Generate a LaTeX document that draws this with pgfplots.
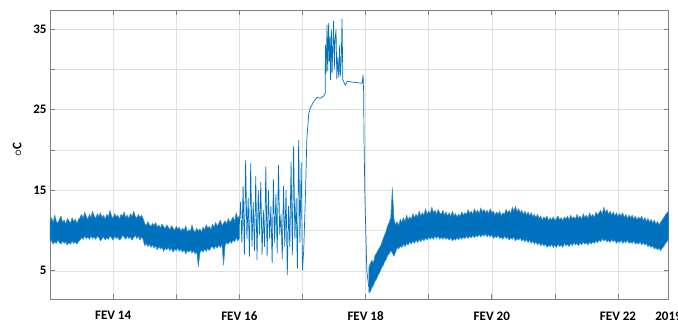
\documentclass[border=0pt]{standalone}
\usepackage{pgfplots}
\pgfplotsset{compat=1.18}
\usepackage{pgfplotstable}
\usepackage{fontspec}
\setmainfont{Carlito}
\definecolor{mblue}{rgb}{0,0.447,0.741}
\definecolor{gridc}{gray}{0.88}
\definecolor{axc}{gray}{0.5}

% band before the heating episode: upper edge forward, lower edge back
\pgfplotstableread{
x y
13.000 11.2
13.025 11.6
13.050 11.0
13.075 11.9
13.100 11.1
13.125 10.9
13.150 11.4
13.175 11.8
13.200 11.0
13.225 11.3
13.250 10.8
13.275 11.5
13.300 11.2
13.325 10.9
13.350 11.6
13.375 11.1
13.400 11.4
13.425 10.9
13.450 11.3
13.475 11.6
13.500 12.0
13.525 11.5
13.550 12.3
13.575 11.7
13.600 11.4
13.625 12.0
13.650 11.6
13.675 12.4
13.700 11.8
13.725 11.5
13.750 12.1
13.775 11.7
13.800 12.2
13.825 11.6
13.850 11.9
13.875 11.4
13.900 12.0
13.925 11.7
13.950 12.5
13.975 11.8
14.000 11.5
14.025 12.1
14.050 11.7
14.075 11.9
14.100 11.4
14.125 12.0
14.150 11.8
14.175 12.3
14.200 11.6
14.225 11.9
14.250 11.5
14.275 12.1
14.300 11.7
14.325 12.4
14.350 11.8
14.375 11.5
14.400 12.0
14.425 11.6
14.450 11.9
14.475 11.5
14.500 10.9
14.525 10.6
14.550 11.1
14.575 10.7
14.600 10.5
14.625 10.9
14.650 10.6
14.675 11.0
14.700 10.4
14.725 10.7
14.750 10.3
14.775 10.8
14.800 10.5
14.825 10.2
14.850 10.7
14.875 10.4
14.900 10.1
14.925 10.6
14.950 10.3
14.975 10.0
15.000 10.5
15.025 10.2
15.050 10.4
15.075 9.9
15.100 10.3
15.125 10.0
15.150 10.6
15.175 9.8
15.200 10.1
15.225 9.9
15.250 10.7
15.275 10.0
15.300 9.8
15.325 10.3
15.350 9.9
15.375 10.2
15.400 9.8
15.425 10.4
15.450 10.1
15.475 10.7
15.500 10.3
15.525 10.5
15.550 10.1
15.575 10.8
15.600 10.4
15.625 11.0
15.650 10.5
15.675 10.9
15.700 11.3
15.725 10.6
15.750 10.9
15.775 11.2
15.800 10.8
15.825 11.5
15.850 11.0
15.875 11.3
15.900 11.7
15.925 11.1
15.950 12.2
15.975 11.5
16.000 11.8
16.000 9.0
15.975 8.7
15.950 9.1
15.925 8.6
15.900 8.8
15.875 8.4
15.850 8.7
15.825 8.3
15.800 8.5
15.775 8.2
15.750 5.7
15.725 8.3
15.700 7.9
15.675 8.2
15.650 7.8
15.625 8.1
15.600 7.7
15.575 8.0
15.550 7.9
15.525 7.5
15.500 7.8
15.475 7.4
15.450 7.7
15.425 7.3
15.400 7.6
15.375 7.2
15.350 5.5
15.325 7.4
15.300 7.1
15.275 7.5
15.250 7.2
15.225 7.6
15.200 7.3
15.175 7.5
15.150 7.1
15.125 7.6
15.100 7.3
15.075 7.7
15.050 7.4
15.025 7.8
15.000 7.5
14.975 7.7
14.950 7.3
14.925 7.8
14.900 7.5
14.875 7.9
14.850 7.6
14.825 7.8
14.800 7.4
14.775 7.9
14.750 7.7
14.725 8.0
14.700 7.6
14.675 8.1
14.650 7.8
14.625 8.2
14.600 7.9
14.575 8.3
14.550 8.0
14.525 8.4
14.500 8.1
14.475 8.9
14.450 9.2
14.425 8.8
14.400 9.3
14.375 9.0
14.350 9.4
14.325 9.1
14.300 8.8
14.275 9.2
14.250 9.0
14.225 9.3
14.200 8.9
14.175 9.2
14.150 9.4
14.125 9.0
14.100 8.8
14.075 9.2
14.050 9.0
14.025 9.3
14.000 8.8
13.975 9.1
13.950 9.3
13.925 8.9
13.900 9.1
13.875 8.8
13.850 9.2
13.825 9.0
13.800 8.7
13.775 9.1
13.750 9.3
13.725 8.9
13.700 9.2
13.675 9.0
13.650 9.3
13.625 8.9
13.600 9.2
13.575 9.0
13.550 9.3
13.525 8.9
13.500 9.1
13.475 8.8
13.450 8.6
13.425 8.3
13.400 8.6
13.375 8.4
13.350 8.7
13.325 8.3
13.300 8.5
13.275 8.2
13.250 8.6
13.225 8.4
13.200 8.7
13.175 8.3
13.150 8.5
13.125 8.8
13.100 8.4
13.075 8.6
13.050 8.3
13.025 8.7
13.000 8.9
}\segA

\pgfplotstableread{
x y
16.00 10.8
16.02 13.5
16.04 8.5
16.06 15.5
16.08 7.0
16.10 18.7
16.12 9.0
16.14 14.0
16.16 6.8
16.18 18.3
16.20 8.0
16.22 13.5
16.24 7.5
16.26 16.7
16.28 6.4
16.30 15.0
16.32 9.5
16.34 16.0
16.36 7.0
16.38 12.5
16.40 8.0
16.42 17.9
16.44 6.8
16.46 15.0
16.48 9.0
16.50 13.0
16.52 6.0
16.54 16.3
16.56 8.5
16.58 14.5
16.60 7.2
16.62 18.1
16.64 9.5
16.66 12.0
16.68 6.5
16.70 15.5
16.72 8.0
16.74 15.0
16.76 4.5
16.78 13.0
16.80 8.0
16.82 18.5
16.84 7.0
16.86 20.4
16.88 9.0
16.90 14.0
16.92 5.3
16.94 21.2
16.96 8.5
16.98 18.4
17.00 5.1
17.02 7.5
17.05 15.0
17.07 21.4
17.10 24.5
17.125 25.2
17.18 26.0
17.23 26.5
17.28 26.4
17.34 26.7
17.36 27.0
17.365 33.0
17.375 29.5
17.39 35.5
17.40 29.8
17.415 35.7
17.425 31.0
17.435 34.0
17.445 28.7
17.458 34.9
17.47 29.5
17.48 32.5
17.494 36.0
17.505 30.0
17.515 33.5
17.532 34.9
17.545 28.8
17.56 31.5
17.575 29.0
17.59 33.0
17.60 29.2
17.615 31.0
17.627 36.2
17.64 28.7
17.68 28.0
17.71 28.5
17.80 28.4
17.90 28.3
17.945 28.25
17.96 29.3
17.97 27.1
17.975 21.8
17.99 14.0
18.02 5.0
18.05 3.0
}\segM

% band after the episode: upper edge forward, lower edge back
\pgfplotstableread{
x y
18.050 5.3
18.075 5.9
18.100 6.3
18.125 6.0
18.150 6.9
18.175 7.2
18.200 7.6
18.225 7.9
18.250 8.3
18.275 8.9
18.300 9.4
18.325 9.9
18.350 10.6
18.375 11.0
18.400 11.6
18.425 15.3
18.450 11.4
18.475 10.7
18.500 11.1
18.525 10.6
18.550 11.4
18.575 11.0
18.600 11.6
18.625 11.1
18.650 11.9
18.675 11.3
18.700 11.7
18.725 11.4
18.750 12.1
18.775 11.6
18.800 12.0
18.825 11.7
18.850 12.4
18.875 11.8
18.900 12.2
18.925 11.9
18.950 12.7
18.975 12.0
19.000 12.4
19.025 12.1
19.050 12.9
19.075 12.2
19.100 12.5
19.125 12.0
19.150 12.6
19.175 12.2
19.200 12.0
19.225 12.5
19.250 11.9
19.275 12.3
19.300 11.8
19.325 12.2
19.350 11.7
19.375 12.4
19.400 11.8
19.425 12.1
19.450 11.7
19.475 12.0
19.500 11.8
19.525 12.3
19.550 11.9
19.575 12.2
19.600 12.0
19.625 12.6
19.650 12.1
19.675 12.4
19.700 12.0
19.725 12.7
19.750 12.2
19.775 12.5
19.800 12.1
19.825 12.8
19.850 12.3
19.875 12.6
19.900 12.2
19.925 12.5
19.950 12.1
19.975 12.7
20.000 12.2
20.025 12.4
20.050 11.9
20.075 12.3
20.100 12.0
20.125 12.4
20.150 11.8
20.175 12.2
20.200 12.0
20.225 12.6
20.250 12.2
20.275 12.5
20.300 12.1
20.325 12.9
20.350 12.4
20.375 13.0
20.400 12.3
20.425 12.7
20.450 12.2
20.475 12.5
20.500 12.0
20.525 12.4
20.550 11.9
20.575 12.3
20.600 11.8
20.625 12.2
20.650 11.7
20.675 12.0
20.700 11.6
20.725 12.0
20.750 11.5
20.775 11.8
20.800 11.3
20.825 11.7
20.850 11.4
20.875 11.8
20.900 11.2
20.925 11.6
20.950 11.3
20.975 11.7
21.000 11.2
21.025 11.5
21.050 11.8
21.075 11.3
21.100 11.6
21.125 11.2
21.150 11.7
21.175 11.4
21.200 11.8
21.225 11.3
21.250 11.9
21.275 11.5
21.300 11.7
21.325 11.4
21.350 12.0
21.375 11.5
21.400 11.8
21.425 11.4
21.450 12.1
21.475 11.6
21.500 11.9
21.525 11.5
21.550 12.2
21.575 11.7
21.600 12.0
21.625 11.6
21.650 12.3
21.675 11.9
21.700 12.2
21.725 12.5
21.750 12.0
21.775 12.9
21.800 12.2
21.825 12.6
21.850 12.0
21.875 12.4
21.900 11.9
21.925 12.3
21.950 11.8
21.975 12.2
22.000 11.7
22.025 12.1
22.050 11.8
22.075 12.2
22.100 11.6
22.125 12.0
22.150 11.5
22.175 11.9
22.200 11.6
22.225 11.9
22.250 11.4
22.275 11.8
22.300 11.3
22.325 11.7
22.350 11.4
22.375 11.8
22.400 11.2
22.425 11.6
22.450 11.1
22.475 11.5
22.500 11.0
22.525 11.4
22.550 10.9
22.575 11.3
22.600 10.8
22.625 11.1
22.650 10.7
22.675 11.0
22.700 11.3
22.725 11.6
22.750 11.9
22.775 12.2
22.800 12.4
22.800 9.0
22.775 8.6
22.750 8.4
22.725 8.0
22.700 7.8
22.675 7.5
22.650 7.8
22.625 7.6
22.600 7.9
22.575 7.7
22.550 8.1
22.525 7.9
22.500 8.2
22.475 8.0
22.450 8.4
22.425 8.2
22.400 8.5
22.375 8.2
22.350 8.6
22.325 8.3
22.300 8.5
22.275 8.3
22.250 8.7
22.225 8.4
22.200 8.6
22.175 8.4
22.150 8.8
22.125 8.5
22.100 8.7
22.075 8.4
22.050 8.8
22.025 8.5
22.000 8.7
21.975 8.4
21.950 8.8
21.925 8.6
21.900 8.9
21.875 8.5
21.850 8.8
21.825 8.6
21.800 8.9
21.775 8.7
21.750 9.0
21.725 8.6
21.700 8.8
21.675 8.5
21.650 8.7
21.625 8.4
21.600 8.6
21.575 8.3
21.550 8.6
21.525 8.2
21.500 8.5
21.475 8.3
21.450 8.6
21.425 8.2
21.400 8.5
21.375 8.1
21.350 8.4
21.325 8.2
21.300 8.5
21.275 8.1
21.250 8.4
21.225 8.0
21.200 8.3
21.175 8.1
21.150 8.4
21.125 7.9
21.100 8.2
21.075 8.0
21.050 8.3
21.025 7.9
21.000 8.2
20.975 7.9
20.950 8.3
20.925 8.0
20.900 8.2
20.875 7.9
20.850 8.3
20.825 8.1
20.800 8.4
20.775 8.1
20.750 8.5
20.725 8.2
20.700 8.6
20.675 8.3
20.650 8.7
20.625 8.4
20.600 8.8
20.575 8.5
20.550 8.9
20.525 8.6
20.500 8.9
20.475 8.7
20.450 9.1
20.425 8.8
20.400 9.0
20.375 8.7
20.350 9.2
20.325 8.9
20.300 9.1
20.275 8.8
20.250 9.2
20.225 9.0
20.200 9.3
20.175 8.9
20.150 9.2
20.125 9.0
20.100 9.4
20.075 9.1
20.050 9.3
20.025 9.0
20.000 9.5
19.975 9.2
19.950 9.5
19.925 9.2
19.900 9.6
19.875 9.3
19.850 9.5
19.825 9.2
19.800 9.5
19.775 9.2
19.750 9.4
19.725 9.1
19.700 9.4
19.675 9.1
19.650 9.3
19.625 9.0
19.600 9.3
19.575 9.0
19.550 9.2
19.525 8.9
19.500 9.2
19.475 8.8
19.450 9.1
19.425 8.8
19.400 9.0
19.375 8.7
19.350 9.1
19.325 8.8
19.300 9.1
19.275 8.9
19.250 9.2
19.225 8.9
19.200 9.2
19.175 8.9
19.150 9.3
19.125 9.0
19.100 9.3
19.075 8.9
19.050 9.2
19.025 8.9
19.000 9.2
18.975 8.8
18.950 9.1
18.925 8.7
18.900 9.0
18.875 8.6
18.850 8.9
18.825 8.5
18.800 8.8
18.775 8.4
18.750 8.7
18.725 8.3
18.700 8.6
18.675 8.2
18.650 8.4
18.625 8.0
18.600 8.3
18.575 7.9
18.550 8.1
18.525 7.7
18.500 7.9
18.475 7.3
18.450 6.8
18.425 7.2
18.400 7.5
18.375 7.1
18.350 6.9
18.325 6.4
18.300 6.1
18.275 5.6
18.250 5.3
18.225 4.8
18.200 4.5
18.175 4.0
18.150 3.7
18.125 3.2
18.100 2.9
18.075 2.4
18.050 2.3
}\segB

\begin{document}
\begin{tikzpicture}
\useasboundingbox (0,0) rectangle (678pt,323pt);
\begin{axis}[
  at={(50pt,24pt)}, anchor=south west,
  scale only axis, width=618.5pt, height=289pt,
  xmin=13, xmax=22.8, ymin=1.5, ymax=37.35,
  xtick={14,...,22},
  xticklabels={FEV 14,,FEV 16,,FEV 18,,FEV 20,,FEV 22},
  ytick={5,10,...,35},
  yticklabels={5,,15,,25,,35},
  grid=major,
  major grid style={gridc, line width=0.5pt},
  axis line style={axc, line width=0.6pt},
  tick style={axc, line width=0.6pt},
  tick align=inside, major tick length=5pt,
  ticklabel style={font=\fontsize{13}{15}\selectfont\bfseries, text=black},
  xticklabel style={yshift=-9pt},
  /pgf/number format/assume math mode=true,
  ylabel={$\circ$C},
  ylabel style={font=\fontsize{13}{15}\selectfont\bfseries\boldmath, at={(axis description cs:-0.053,0.516)}, anchor=center},
]
\addplot[fill=mblue, draw=mblue!80!white, line width=0.5pt, line join=round] table[x=x,y=y]{\segA};
\addplot[fill=mblue, draw=mblue!80!white, line width=0.5pt, line join=round] table[x=x,y=y]{\segB};
\addplot[mblue, line width=0.7pt, line join=round] table[x=x,y=y]{\segM};
\end{axis}
\node[anchor=north, yshift=-9pt, font=\fontsize{13}{15}\selectfont\bfseries, inner sep=0.333em] at (668.5pt,24pt) {2019};
\end{tikzpicture}
\end{document}
